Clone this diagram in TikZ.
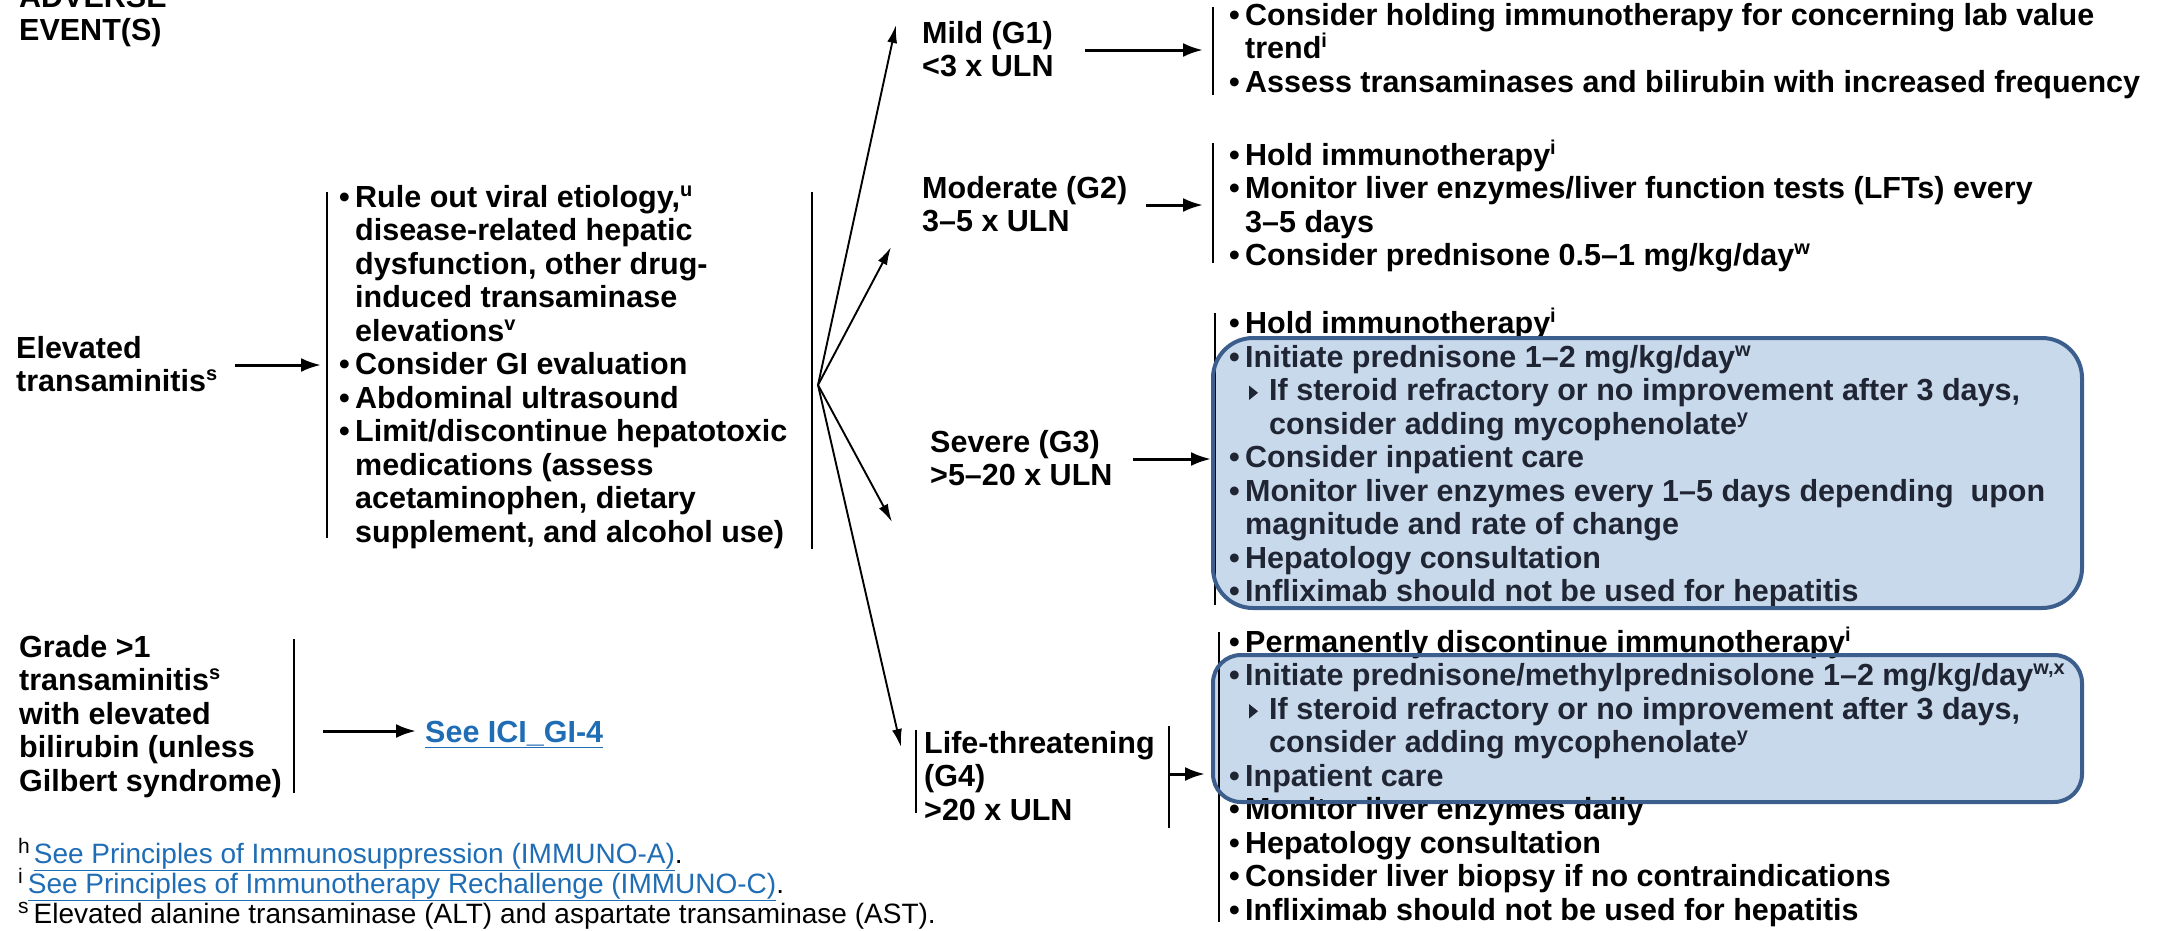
\documentclass[tikz,border=0pt]{standalone}
\usepackage{fontspec}
\setmainfont{Liberation Sans}
\usetikzlibrary{arrows.meta}
\definecolor{boxfill}{HTML}{C9D9EC}
\definecolor{boxline}{HTML}{3B5E8C}
\definecolor{boxtext}{HTML}{1F2533}
\definecolor{linkblue}{HTML}{1F6DB5}
\newcommand\Ln[1]{\hbox{#1}}
\newcommand\Bl[1]{\hbox{\makebox[16pt][l]{•}#1}}
\newcommand\Ct[1]{\hbox{\hspace{16pt}#1}}
\newcommand\Sb[1]{\hbox{\hspace{40pt}#1}}
\newcommand\Sc[1]{\hbox{\hspace{40pt}#1}}
\newcommand\Stack[1]{\vtop{\baselineskip=33.5pt\lineskiplimit=-100pt\lineskip=0pt #1}}
\newcommand\sups[1]{\raisebox{11pt}{\fontsize{20}{20}\selectfont #1}}
\newcommand\fsup[1]{\raisebox{10pt}{\fontsize{21}{21}\selectfont #1}}
\newcommand\lnk[1]{{\color{linkblue}\underline{#1}}}
\tikzset{
  txt/.style={inner sep=0pt, anchor=base west, font=\bfseries\fontsize{30.5}{33.5}\selectfont},
  btxt/.style={txt, text=boxtext},
  foot/.style={inner sep=0pt, anchor=base west, font=\fontsize{28}{30}\selectfont},
  bar/.style={line width=1.8pt},
  arr/.style={-{Latex[length=20pt,width=14pt]}, line width=3pt},
  fan/.style={-{Latex[length=18pt,width=10pt]}, line width=1.9pt},
  hlbox/.style={rounded corners=#1, line width=4pt},
  subtri/.style={fill=boxtext}
}
\begin{document}
\begin{tikzpicture}[x=1pt,y=-1pt]
\useasboundingbox (0,0) rectangle (2175,930);
% highlight fills
\fill[boxfill, rounded corners=40pt] (1213,338) rectangle (2082,608);
\fill[boxfill, rounded corners=28pt] (1213,655) rectangle (2082,802);

% left column
\node[txt] (adverse) at (19,7) {\Stack{\Ln{ADVERSE}\Ln{EVENT(S)}}};
\node[txt] (elev) at (16,358) {\Stack{\Ln{Elevated}\Ln{transaminitis\sups{s}}}};
\node[txt] (eval) at (339,207) {\Stack{%
 \Bl{Rule out viral etiology,\sups{u}}
 \Ct{disease-related hepatic}
 \Ct{dysfunction, other drug-}
 \Ct{induced transaminase}
 \Ct{elevations\sups{v}}
 \Bl{Consider GI evaluation}
 \Bl{Abdominal ultrasound}
 \Bl{Limit/discontinue hepatotoxic}
 \Ct{medications (assess}
 \Ct{acetaminophen, dietary}
 \Ct{supplement, and alcohol use)}}};
\draw[bar] (327,192) -- (327,538);
\draw[bar] (812,192) -- (812,549);
\coordinate (elevR) at (235,365);
\coordinate (evalL) at (321,365);
\draw[arr] (elevR) -- (evalL);

\node[txt] (grade) at (19,657) {\Stack{\Ln{Grade >1}\Ln{transaminitis\sups{s}}\Ln{with elevated}\Ln{bilirubin (unless}\Ln{Gilbert syndrome)}}};
\draw[bar] (294,639) -- (294,793);
\node[txt, text=linkblue] (seeici) at (425,742) {\underline{See ICI\_GI-4}};
\coordinate (gradeR) at (323,731);
\coordinate (seeL) at (416,731);
\draw[arr] (gradeR) -- (seeL);

% fan
\coordinate (hub) at (818,385);
\coordinate (tipG1) at (896,25);
\coordinate (tipG2) at (891,247);
\coordinate (tipG3) at (892,522);
\coordinate (tipG4) at (901,747);
\draw[fan] (hub) -- (tipG1);
\draw[fan] (hub) -- (tipG2);
\draw[fan] (hub) -- (tipG3);
\draw[fan] (hub) -- (tipG4);

% Mild
\node[txt] (g1) at (922,43) {\Stack{\Ln{Mild (G1)}\Ln{<3 x ULN}}};
\coordinate (g1R) at (1085,50);
\coordinate (g1L) at (1203,50);
\draw[arr] (g1R) -- (g1L);
\draw[bar] (1213,7) -- (1213,95);
\node[txt] (g1act) at (1229,25) {\Stack{%
 \Bl{Consider holding immunotherapy for concerning lab value}
 \Ct{trend\sups{i}}
 \Bl{Assess transaminases and bilirubin with increased frequency}}};

% Moderate
\node[txt] (g2) at (922,198) {\Stack{\Ln{Moderate (G2)}\Ln{3–5 x ULN}}};
\coordinate (g2R) at (1146,205);
\coordinate (g2L) at (1203,205);
\draw[arr] (g2R) -- (g2L);
\draw[bar] (1213,143) -- (1213,263);
\node[txt] (g2act) at (1229,165) {\Stack{%
 \Bl{Hold immunotherapy\sups{i}}
 \Bl{Monitor liver enzymes/liver function tests (LFTs) every}
 \Ct{3–5 days}
 \Bl{Consider prednisone 0.5–1 mg/kg/day\sups{w}}}};

% Severe
\node[txt] (g3) at (930,452) {\Stack{\Ln{Severe (G3)}\Ln{>5–20 x ULN}}};
\coordinate (g3R) at (1133,459);
\coordinate (g3L) at (1211,459);
\draw[arr] (g3R) -- (g3L);
\draw[bar] (1215,313) -- (1215,605);
\node[txt] (g3a) at (1229,333) {\Stack{\Bl{Hold immunotherapy\sups{i}}}};
\node[btxt] (g3b) at (1229,367) {\Stack{%
 \Bl{Initiate prednisone 1–2 mg/kg/day\sups{w}}
 \Sb{If steroid refractory or no improvement after 3 days,}
 \Sc{consider adding mycophenolate\sups{y}}
 \Bl{Consider inpatient care}
 \Bl{Monitor liver enzymes every 1–5 days depending\ \ upon}
 \Ct{magnitude and rate of change}
 \Bl{Hepatology consultation}
 \Bl{Infliximab should not be used for hepatitis}}};
\fill[subtri] (1249,385.5) -- (1249,400) -- (1258,392.75) -- cycle;
\draw[boxline, hlbox=40pt] (1213,338) rectangle (2082,608);

% Life-threatening
\draw[bar] (916,730) -- (916,813);
\node[txt] (g4) at (924,753) {\Stack{\Ln{Life-threatening}\Ln{(G4)}\Ln{>20 x ULN}}};
\draw[bar] (1169,726) -- (1169,828);
\coordinate (g4R) at (1169,774);
\coordinate (g4L) at (1205,774);
\draw[arr] (g4R) -- (g4L);
\draw[bar] (1219,632) -- (1219,922);
\node[txt] (g4a) at (1229,652) {\Stack{\Bl{Permanently discontinue immunotherapy\sups{i}}}};
\node[btxt] (g4b) at (1229,685.5) {\Stack{%
 \Bl{Initiate prednisone/methylprednisolone 1–2 mg/kg/day\sups{w,x}}
 \Sb{If steroid refractory or no improvement after 3 days,}
 \Sc{consider adding mycophenolate\sups{y}}
 \Bl{Inpatient care}}};
\fill[subtri] (1249,704) -- (1249,718.5) -- (1258,711.25) -- cycle;
\node[txt] (g4c) at (1229,819.5) {\Stack{%
 \Bl{Monitor liver enzymes daily}
 \Bl{Hepatology consultation}
 \Bl{Consider liver biopsy if no contraindications}
 \Bl{Infliximab should not be used for hepatitis}}};
\draw[boxline, hlbox=28pt] (1213,655) rectangle (2082,802);

% footnotes
\node[foot] (fh) at (18,863) {\fsup{h}\hspace{4pt}\lnk{See Principles of Immunosuppression (IMMUNO-A)}.};
\node[foot] (fi) at (18,893) {\fsup{i}\hspace{5pt}\lnk{See Principles of Immunotherapy Rechallenge (IMMUNO-C)}.};
\node[foot] (fs) at (18,923) {\fsup{s}\hspace{5pt}Elevated alanine transaminase (ALT) and aspartate transaminase (AST).};
\end{tikzpicture}
\end{document}
